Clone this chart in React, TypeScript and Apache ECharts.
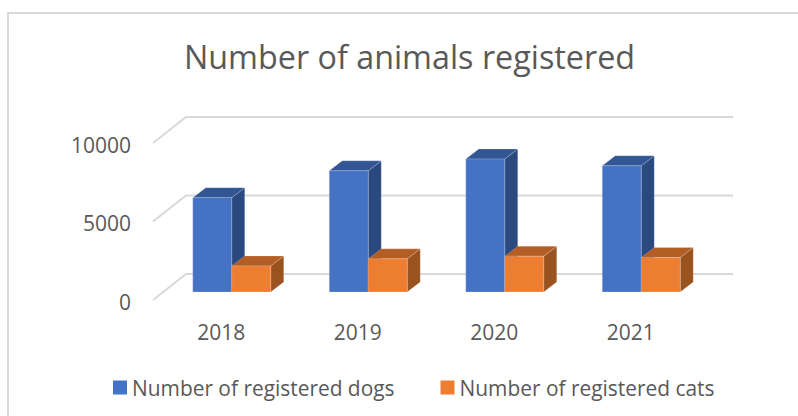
import React, { useEffect, useRef } from "react";
import * as echarts from "echarts";

const titleText = "Number of animals registered";
const years = ["2018", "2019", "2020", "2021"];
const dogs = [6010, 7720, 8470, 8040];
const cats = [1660, 2110, 2280, 2200];
const yTicks = [0, 5000, 10000];
const dogName = "Number of registered dogs";
const catName = "Number of registered cats";

const FONT = "'Open Sans', sans-serif";
const TEXT = "#595959";
const GRID = "#D9D9D9";

// depth of the 3D wall and of a bar, and the bar plane's offset from the front of the floor
const WALL = { dx: 33, dy: -26 };
const BAR = { dx: 13, dy: -10, w: 39 };
const PLANE = { dx: 10.5, dy: -8 };

const wallItem = (_p: any, api: any) => {
  const [x, y] = api.coord([0, api.value(1)]);
  const band = api.size([1, 0])[0];
  const left = x - band / 2;
  const right = left + band * years.length + WALL.dx + 1;
  return {
    type: "polyline",
    shape: { points: [[left, y], [left + WALL.dx, y + WALL.dy], [right, y + WALL.dy]] },
    style: { stroke: GRID, lineWidth: 2, fill: "none" },
  };
};

const barItem = (side: number, front: string, top: string, right: string) => (_p: any, api: any) => {
  const c = api.coord([api.value(0), api.value(1)]);
  const b = api.coord([api.value(0), 0]);
  const x0 = c[0] + PLANE.dx + (side < 0 ? -BAR.w : 0);
  const x1 = x0 + BAR.w;
  const yt = c[1] + PLANE.dy;
  const yb = b[1] + PLANE.dy;
  const poly = (points: number[][], fill: string) => ({
    type: "polygon",
    shape: { points },
    style: { fill, stroke: "rgba(255,255,255,0.18)", lineWidth: 1 },
  });
  return {
    type: "group",
    children: [
      poly([[x1, yt], [x1 + BAR.dx, yt + BAR.dy], [x1 + BAR.dx, yb + BAR.dy], [x1, yb]], right),
      poly([[x0, yt], [x0 + BAR.dx, yt + BAR.dy], [x1 + BAR.dx, yt + BAR.dy], [x1, yt]], top),
      poly([[x0, yt], [x1, yt], [x1, yb], [x0, yb]], front),
    ],
  };
};

export default function App() {
  const ref = useRef<HTMLDivElement>(null);
  useEffect(() => {
    const chart = echarts.init(ref.current!, undefined, { renderer: "svg" });
    chart.setOption({
      animation: false,
      backgroundColor: "#ffffff",
      title: {
        text: titleText,
        left: 184,
        top: 40,
        padding: 0,
        textStyle: { fontFamily: FONT, fontSize: 32.3, fontWeight: "normal", color: TEXT },
      },
      legend: {
        data: [dogName, catName],
        left: 113,
        top: 377,
        padding: 0,
        itemWidth: 14,
        itemHeight: 14,
        itemGap: 46,
        selectedMode: false,
        icon: "rect",
        textStyle: { fontFamily: FONT, fontSize: 20.9, color: TEXT },
      },
      grid: [
        { left: 153, top: 143, width: 546, height: 157 },
        { left: 153, top: 144.5, width: 546, height: 157 },
      ],
      xAxis: [
        {
          type: "category",
          data: years,
          axisLine: { show: false },
          axisTick: { show: false },
          axisLabel: { fontFamily: FONT, fontSize: 21, color: TEXT, margin: 21 },
        },
        { type: "category", gridIndex: 1, data: years, show: false },
      ],
      yAxis: [
        {
          type: "value",
          min: 0,
          max: 10000,
          interval: 5000,
          axisLine: { show: false },
          axisTick: { show: false },
          splitLine: { show: false },
          axisLabel: { show: false },
        },
        {
          type: "value",
          gridIndex: 1,
          min: 0,
          max: 10000,
          interval: 5000,
          axisLine: { show: false },
          axisTick: { show: false },
          splitLine: { show: false },
          axisLabel: {
            fontFamily: FONT,
            fontSize: 21,
            color: TEXT,
            margin: 22,
            formatter: (v: number) => String(v),
          },
        },
      ],
      series: [
        {
          type: "custom",
          name: "wall",
          renderItem: wallItem,
          data: yTicks.map((v) => [0, v]),
          encode: { x: 0, y: 1 },
          silent: true,
          z: 1,
        },
        {
          type: "custom",
          name: dogName,
          renderItem: barItem(-1, "#4472C4", "#325594", "#2A4A7F"),
          data: dogs.map((v, i) => [i, v]),
          encode: { x: 0, y: 1 },
          itemStyle: { color: "#4472C4" },
          z: 2,
        },
        {
          type: "custom",
          name: catName,
          renderItem: barItem(1, "#ED7D31", "#B35E24", "#9A521F"),
          data: cats.map((v, i) => [i, v]),
          encode: { x: 0, y: 1 },
          itemStyle: { color: "#ED7D31" },
          z: 3,
        },
      ],
      graphic: [
        {
          type: "polyline",
          shape: { points: [[8, 416], [8, 13], [798, 13]] },
          style: { stroke: GRID, lineWidth: 2, fill: "none" },
        },
      ],
    });
    return () => chart.dispose();
  }, []);
  return <div ref={ref} style={{ position: "fixed", left: 0, top: 0, width: 798, height: 416 }} />;
}
